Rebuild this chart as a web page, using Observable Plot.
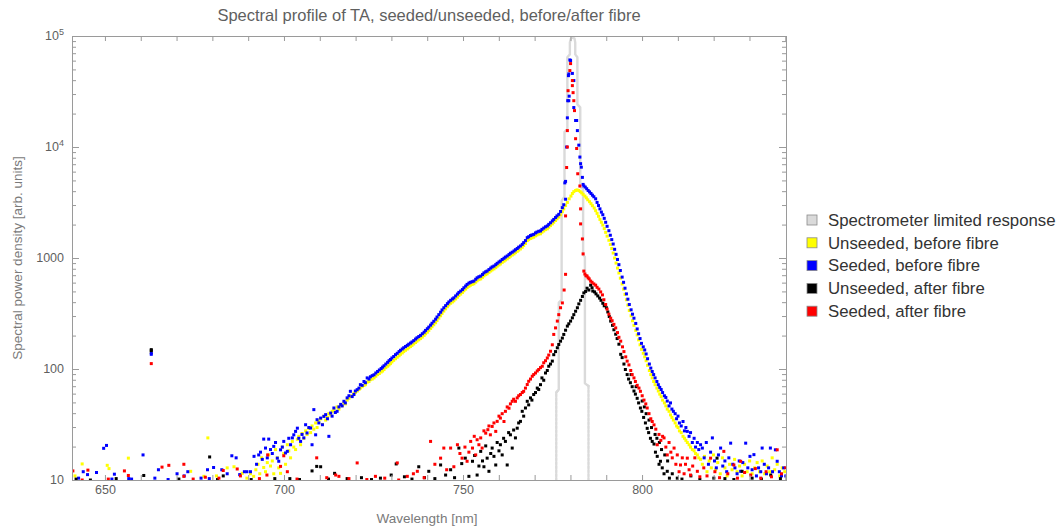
<!DOCTYPE html>
<html><head><meta charset="utf-8">
<script src="https://cdn.jsdelivr.net/npm/d3@7"></script>
<script src="https://cdn.jsdelivr.net/npm/@observablehq/plot@0.6"></script>
<style>
body{margin:0;background:#fff;}
#chart{width:1063px;height:529px;}
</style></head><body><div id="chart"></div>
<script>
// ---------- data (wavelength nm, spectral power density arb. units) ----------
const spectrometerResponse = [[775.9,10],[775.9,62],[776.6,66],[776.6,400],[777.4,425],[777.4,3300],[778.2,3600],[778.2,13800],[779.0,14600],[779.0,65000],[779.7,69000],[779.7,88000],[780.0,96000],[780.5,98000],[781.0,96000],[781.2,88000],[781.2,69000],[781.8,65000],[781.8,24500],[782.6,23000],[782.6,4450],[783.4,4200],[783.4,1080],[783.9,1030],[783.9,75],[784.9,71],[784.9,10]];

const unseededBefore = [[641.5,11],[643.5,14.1],[650.5,13.7],[651,12.8],[656.4,15.9],[662.8,143],[673.8,12.1],[677.5,10.9],[678.6,24.2],[681,11],[684,13],[685.9,13.3],[688.2,11.6],[689.5,10.5],[690.5,11.5],[691.4,10.9],[692.0,12.5],[692.6,14],[693.1,11.5],[693.6,16],[694.2,13.1],[694.7,12],[695.2,14.5],[695.6,17],[696.1,13.5],[696.6,15],[697.0,11.5],[697.5,19],[698.0,16],[698.4,13],[698.9,11.6],[699.4,20],[699.8,17.5],[700.3,14],[700.8,21],[701.2,18.5],[701.7,16],[702.2,22.5],[702.6,20],[703.1,19],[703.6,23.5],[704.0,25],[704.5,21],[704.9,26.5],[705.4,24],[705.9,28],[706.3,26],[706.8,29.5],[707.3,27],[707.7,31],[708.2,29],[708.7,33],[709.1,30],[709.6,34.5],[710.1,36],[710.6,32],[711.0,38],[711.5,35],[712.0,37],[712.4,40],[712.9,39],[713.3,42],[713.8,43],[714.2,41],[714.7,46],[715.2,44],[715.7,48],[716.1,47],[716.6,50],[717.0,49],[717.5,53],[718.0,55],[718.4,57],[718.9,58],[719.4,61],[719.8,62],[720.3,64],[720.8,66],[721.2,68],[721.7,70],[722.2,72],[722.6,73],[723.1,77],[723.6,78],[724.0,81],[724.5,82],[725.0,84],[725.5,87],[726.0,90],[726.5,92],[727.0,95],[727.4,97],[727.8,100],[728.3,104],[728.8,107],[729.2,110],[729.6,113],[730.0,117],[730.5,121],[731.0,125],[731.5,129],[732.0,133],[732.4,137],[732.9,141],[733.3,145],[733.8,149],[734.3,153],[734.7,157],[735.2,161],[735.6,165],[736.1,170],[736.6,175],[737.0,180],[737.5,185],[738.0,190],[738.5,196],[739.0,203],[739.4,210],[739.9,217],[740.3,225],[740.8,234],[741.2,243],[741.7,253],[742.2,264],[742.6,276],[743.1,290],[743.6,305],[744.0,320],[744.5,336],[745.0,352],[745.5,368],[745.9,382],[746.4,395],[746.9,406],[747.3,416],[747.8,432],[748.3,448],[748.7,464],[749.2,478],[749.7,494],[750.1,512],[750.6,530],[751.0,548],[751.5,562],[751.9,574],[752.4,584],[752.9,592],[753.4,612],[753.8,630],[754.3,645],[754.8,655],[755.3,676],[755.7,698],[756.2,716],[756.6,728],[757.1,750],[757.6,772],[758.0,790],[758.5,806],[759.0,828],[759.4,852],[759.9,875],[760.3,893],[760.8,922],[761.3,946],[761.7,970],[762.2,992],[762.7,1020],[763.1,1050],[763.6,1075],[764.1,1100],[764.5,1130],[765.0,1160],[765.4,1190],[765.9,1220],[766.4,1262],[766.8,1310],[767.3,1365],[767.8,1450],[768.2,1480],[768.7,1515],[769.1,1535],[769.6,1555],[770.1,1600],[770.5,1630],[771.0,1660],[771.5,1670],[771.9,1725],[772.4,1770],[772.9,1820],[773.4,1850],[773.8,1910],[774.3,1980],[774.8,2050],[775.2,2120],[775.7,2200],[776.1,2280],[776.6,2360],[777.1,2480],[777.6,2640],[778.0,2800],[778.5,3000],[779.0,3200],[779.5,3450],[780.0,3650],[780.4,3850],[780.8,4000],[781.3,4100],[781.7,4150],[782.2,4100],[782.6,4000],[783.0,3900],[783.4,3780],[783.9,3650],[784.3,3520],[784.7,3380],[785.2,3250],[785.6,3120],[786.0,2990],[786.5,2850],[786.9,2700],[787.3,2550],[787.7,2400],[788.1,2250],[788.5,2120],[788.9,2000],[789.3,1860],[789.7,1720],[790.1,1590],[790.6,1460],[791.0,1340],[791.4,1230],[791.8,1120],[792.2,1010],[792.6,910],[793.0,820],[793.4,740],[793.8,665],[794.3,590],[794.7,530],[795.1,475],[795.5,425],[795.9,380],[796.3,340],[796.8,305],[797.2,275],[797.6,250],[798.1,225],[798.5,205],[798.9,185],[799.3,167],[799.7,152],[800.2,140],[800.6,130],[801.0,120],[801.4,109],[801.9,98],[802.3,90],[802.7,84],[803.1,78],[803.5,73],[804.0,68],[804.4,64],[804.8,60],[805.2,57],[805.6,53],[806.1,50],[806.5,47],[806.9,44],[807.4,42],[807.8,39],[808.2,37],[808.6,35],[809.1,33],[809.5,31],[809.9,30],[810.3,28],[810.8,27],[811.3,25],[811.7,24],[812.1,23],[812.5,22],[813.0,21],[813.4,20],[813.9,19],[814.4,18.5],[814.8,17.5],[815.3,17],[815.7,16],[816.2,15.5],[816.7,14],[817.3,16.5],[818.0,12],[818.6,15],[819.2,13],[819.8,17],[820.4,12.5],[821.0,14.5],[821.7,11.5],[822.3,16],[823.0,13],[823.6,11],[824.3,14],[825.0,12.5],[825.7,15.5],[826.4,12],[827.1,13.5],[827.8,11],[828.5,14],[829.2,12],[829.9,15],[830.6,11.5],[831.3,13],[832.0,14.5],[832.7,12],[833.4,15],[834.1,11.5],[834.8,13.5],[835.5,12],[836.2,16],[836.9,12.5],[837.6,14],[838.3,11],[839.0,13],[839.7,12]];

const seededBefore = [[642.5,10.5],[643.8,12],[645.0,11.3],[647.5,11.8],[649.5,19.5],[650.3,20.7],[651.8,10.3],[652.5,11.4],[656.5,10.4],[657.3,10.3],[660.5,17],[662.8,137],[662.8,141],[663.8,10.5],[664.8,12.5],[667.5,10.2],[670,11.5],[672,11],[673,12],[676.7,10.5],[678.5,12.5],[679,10.4],[680.2,13.1],[682.5,12.5],[684,11.5],[685.3,16.7],[686.5,16],[687.5,11.3],[688.8,12],[689.5,12],[690.5,12],[691.5,16.5],[692.2,14],[692.8,17],[693.3,18],[693.8,15.5],[694.2,23.6],[694.7,19.6],[695.2,16],[695.6,23.6],[696.1,19],[696.6,17.5],[697,20.3],[697.5,22],[698,15.9],[698.4,14.9],[698.9,18.9],[699.4,20],[699.8,22.5],[700.3,17.7],[700.8,18.3],[701.2,24],[701.7,21],[702.2,24.2],[702.6,25.8],[703.1,27.7],[703.6,29.6],[704.0,24],[704.5,22.5],[704.9,26],[705.4,24.2],[705.9,31.8],[706.3,26.8],[706.8,30],[707.3,29.7],[707.7,21],[708.2,43.5],[708.7,25.8],[709.1,35.3],[709.6,33],[710.1,36.5],[710.6,31.8],[711.0,37.8],[711.5,39.2],[712.0,36],[712.4,25],[712.9,40.5],[713.3,38],[713.8,45],[714.2,41],[714.7,42],[715.2,46],[715.7,48.5],[716.1,47],[716.6,51.7],[717.0,50],[717.5,55.5],[718.0,58],[718.4,63.6],[718.9,57],[719.4,59.5],[719.8,64],[720.3,65.8],[720.8,68],[721.2,73],[721.7,72],[722.2,78],[722.6,76],[723.1,84],[723.6,82],[724.0,86],[724.5,88],[725.0,89.6],[725.5,93],[726.0,96],[726.5,99],[727.0,102],[727.4,105],[727.8,108],[728.3,112],[728.8,116],[729.2,120],[729.6,123],[730.0,127],[730.5,131],[731.0,136],[731.5,140],[732.0,145],[732.4,149],[732.9,153],[733.3,157],[733.8,161],[734.3,165],[734.7,169],[735.2,173],[735.6,177],[736.1,182],[736.6,188],[737.0,193],[737.5,198],[738.0,203],[738.5,210],[739.0,217],[739.4,225],[739.9,233],[740.3,241],[740.8,251],[741.2,261],[741.7,272],[742.2,284],[742.6,297],[743.1,312],[743.6,328],[744.0,344],[744.5,360],[745.0,376],[745.5,392],[745.9,406],[746.4,420],[746.9,432],[747.3,442],[747.8,460],[748.3,478],[748.7,495],[749.2,509],[749.7,525],[750.1,545],[750.6,565],[751.0,584],[751.5,600],[751.9,610],[752.4,618],[752.9,626],[753.4,650],[753.8,670],[754.3,685],[754.8,695],[755.3,718],[755.7,742],[756.2,760],[756.6,771],[757.1,795],[757.6,820],[758.0,840],[758.5,855],[759.0,880],[759.4,905],[759.9,930],[760.3,949],[760.8,980],[761.3,1005],[761.7,1030],[762.2,1054],[762.7,1085],[763.1,1115],[763.6,1140],[764.1,1169],[764.5,1200],[765.0,1230],[765.4,1265],[765.9,1297],[766.4,1340],[766.8,1390],[767.3,1450],[767.8,1540],[768.2,1570],[768.7,1610],[769.1,1630],[769.6,1650],[770.1,1700],[770.5,1730],[771.0,1760],[771.5,1771],[771.9,1830],[772.4,1880],[772.9,1930],[773.4,1965],[773.8,2030],[774.3,2100],[774.8,2180],[775.2,2250],[775.7,2340],[776.1,2420],[776.6,2500],[777.1,2650],[777.6,2870],[778.0,3050],[778.5,3420],[778.3,4800],[778.5,4950],[778.8,10100],[779.0,18500],[779.1,26400],[779.4,26400],[779.5,29000],[779.3,44400],[779.4,46000],[779.7,61500],[779.9,60700],[780.4,46500],[780.8,40100],[780.8,22900],[781.3,17500],[781.6,17500],[781.8,14200],[782.2,10500],[782.5,8200],[782.7,7150],[782.9,6650],[783.2,5380],[783.4,4650],[783.6,4500],[784.0,4400],[784.4,4250],[784.8,4100],[785.2,3980],[785.6,3850],[786.0,3720],[786.4,3600],[786.9,3450],[787.3,3200],[787.7,3000],[788.1,2800],[788.5,2620],[788.9,2480],[789.3,2300],[789.7,2120],[790.1,1950],[790.6,1780],[791.0,1620],[791.4,1480],[791.8,1350],[792.2,1210],[792.6,1090],[793.0,980],[793.4,880],[793.8,780],[794.3,680],[794.7,610],[795.1,540],[795.5,480],[795.9,430],[796.3,385],[796.8,345],[797.2,315],[797.6,290],[798.1,260],[798.5,232],[798.9,210],[799.3,190],[799.7,172],[800.2,160],[800.6,150],[801.0,138],[801.4,125],[801.9,112],[802.3,103],[802.7,96],[803.1,90],[803.5,84],[804.0,78],[804.4,73],[804.8,69],[805.2,66],[805.6,62],[806.1,58],[806.5,56],[806.9,52],[807.4,47],[807.8,50],[808.2,44],[808.6,42],[809.1,40],[809.5,36],[809.9,38],[810.3,33],[810.8,31],[811.3,34],[811.7,28],[812.1,30],[812.5,27.7],[813.0,25],[813.4,27],[813.9,22],[814.4,24],[814.8,20],[815.3,22],[815.7,19],[816.2,21],[816.7,19.6],[817.2,16],[817.8,22],[818.4,14],[819.0,18],[819.5,24.2],[820.1,15],[820.6,13],[821.2,17],[821.8,19.6],[822.4,13.5],[823.0,15],[823.5,12],[824.1,16],[824.6,21.7],[825.2,14],[825.8,13],[826.4,11.5],[827.0,15],[827.4,12.1],[828.0,14.5],[828.8,21.7],[829.4,13],[830.0,16.5],[830.6,12.5],[831.1,17.1],[831.8,11],[832.4,13],[833.0,12],[833.4,19.6],[834.0,14],[834.6,11.5],[835.2,13],[835.7,19.6],[836.3,12],[837.1,18.9],[837.6,14.9],[838.2,12],[838.8,11],[839.4,13],[840,11]];

const unseededAfter = [[641.8,10.3],[645.8,10.1],[653,10.4],[660.7,11.1],[662.8,148],[662.8,151],[670.5,10.3],[679.1,16.3],[681.3,10.2],[682.9,11],[690.7,10.2],[697.3,10.4],[701.5,10.4],[704.2,10.2],[707.7,12.2],[709,13.4],[710.1,13.3],[712.3,10.3],[714,11.6],[717.5,10.4],[721.5,10.6],[724.3,10.2],[726.8,10.5],[729.8,11.2],[731.2,14.1],[733.5,10.8],[735.6,10.3],[737.5,13.3],[739.1,10.6],[740.3,12.1],[742.0,10.4],[743.6,13.8],[745.0,11.2],[746.4,12.5],[747.5,10.6],[748.7,19.6],[749.5,14.2],[750.5,15.9],[751.5,10.9],[752.5,14.9],[753.1,16.8],[753.8,11.2],[754.3,13.5],[754.8,18.3],[755.3,15],[755.7,13.3],[756.2,20.5],[756.6,15.9],[757.1,12.1],[757.6,17.5],[758,19.6],[758.5,16.5],[759,13.8],[759.4,22],[759.9,18.5],[760.3,21],[760.8,17],[761.2,24],[761.7,22.5],[762.2,13.8],[762.6,27],[763.1,25.8],[763.6,19.6],[764.0,28.5],[764.5,24.2],[765,29.6],[765.4,33],[765.9,34.1],[766.4,42],[766.8,38],[767.3,45],[767.8,51.7],[768.2,48],[768.7,55.5],[769.1,53],[769.6,59.5],[770.1,62],[770.6,68],[771.0,66],[771.5,73],[771.9,84],[772.4,80],[772.9,93],[773.4,98],[773.8,107],[774.3,112],[774.8,119],[775.2,136],[775.7,145],[776.2,157],[776.6,168],[777.1,180],[777.6,192],[778,207],[778.5,226],[779,246],[779.4,258],[779.9,273],[780.4,292],[780.8,312],[781.3,335],[781.8,360],[782.2,390],[782.7,420],[783.2,455],[783.6,490],[784.1,505],[784.5,540],[785.0,520],[785.5,575],[785.9,545],[786.1,509],[786.6,500],[787.0,480],[787.5,460],[788.0,440],[788.4,420],[788.9,395],[789.3,375],[789.9,360],[790.3,330],[790.7,300],[791.1,273],[791.6,250],[792.0,228],[792.5,208],[792.9,190],[793.4,169],[793.9,137],[794.3,128],[794.8,112],[795.2,100],[795.7,90],[796.1,82],[796.6,76],[796.8,90],[797.1,70],[797.6,64],[798.0,60],[798.2,70],[798.5,55],[798.9,50],[799.4,45],[799.8,42],[799.9,52],[800.3,37],[800.5,46],[800.8,33],[801.0,40],[801.3,29.5],[801.7,27],[801.8,35],[802.2,24],[802.5,30],[802.7,22.5],[803.2,21.3],[803.5,26],[803.6,18],[804.0,24],[804.1,16.5],[804.6,14],[804.7,22],[805,14.9],[805.3,19],[805.5,13],[806.0,11.5],[806.2,17],[806.9,12.1],[807.0,15],[807.5,10.5],[808.3,11.5],[809.7,10.5],[811.0,10.3],[813.5,11],[816.0,10.2],[819.9,10.5],[820.8,15.9],[823.0,10.4],[825.5,10.2],[827.8,12.1],[830.6,10.5],[833.2,10.3],[835.8,11.2],[838.5,10.4]];

const seededAfter = [[640.9,12.2],[643.5,10.1],[645.1,12.4],[650.8,10.3],[655.3,12.2],[656.4,11.1],[662.8,113],[665.8,13.2],[667.7,13.7],[671.9,14],[671.9,10.9],[674.5,10.3],[677.9,10.7],[681.7,10.5],[682.9,12.3],[686.8,12.7],[687.7,11],[693.0,10.4],[695.1,11.2],[695.3,17],[698.9,13.4],[699.8,16.7],[700.8,12],[703.5,10.3],[709,16],[711.8,10.6],[714.3,11.2],[715.2,10.9],[718.0,10.4],[720.3,14.4],[723.0,10.2],[725.4,10.9],[728.0,10.5],[731.5,14.4],[731.9,10.1],[734.3,10.9],[736.0,11.5],[737.1,12.1],[739.0,10.6],[740.8,22.5],[742.0,14],[743.6,15.9],[744.5,19.6],[745.3,12.5],[746.4,19.6],[747.3,13.3],[748.3,21],[749.0,17.5],[749.6,15.9],[750.4,20],[751,14.9],[751.5,18],[752,22.5],[752.5,19.6],[753.0,25],[753.4,17],[753.8,23.3],[754.3,21],[754.8,24.2],[755.2,19.6],[755.7,28],[756.2,26.7],[756.8,28.7],[757.1,31],[757.5,25.8],[758,30.7],[758.5,33],[759,27.7],[759.4,34.1],[759.9,38],[760.3,36.5],[760.8,40],[761.3,34],[761.7,42],[762.2,46],[762.7,44.8],[763.1,49],[763.6,51.7],[764.0,54],[764.5,51.7],[765,55.5],[765.4,58],[765.9,59.5],[766.4,62],[766.8,63.6],[767.3,68],[767.8,73.2],[768.2,78.3],[768.7,82],[769.2,86.9],[769.6,90],[770.1,93],[770.6,97],[771,100],[771.5,104],[772,107],[772.4,115],[772.9,120],[773.4,127],[773.8,135],[774.3,146],[774.8,167],[775.2,207],[775.7,237],[776.2,273],[776.6,312],[777.1,360],[777.6,398],[778.1,520],[778.5,720],[778.5,2420],[778.8,6600],[779.0,10100],[779.0,14200],[779.2,32500],[779.7,49300],[779.9,57000],[780.4,40100],[780.4,36100],[780.6,31200],[780.8,26400],[781.0,21500],[781.3,12000],[781.6,9800],[781.9,5800],[782.5,4500],[782.7,2800],[782.7,2050],[783.2,1500],[783.4,1100],[783.6,770],[783.9,725],[784.2,700],[784.5,695],[784.8,670],[785.1,655],[785.5,626],[785.9,610],[786.4,590],[786.9,575],[787.3,550],[787.8,530],[788.3,500],[788.8,470],[789.2,425],[789.7,385],[790.1,350],[790.6,315],[791.1,290],[791.5,275],[792.0,255],[792.5,237],[793.0,215],[793.4,195],[793.9,180],[794.4,160],[794.8,145],[795.3,130],[795.7,119],[796.2,110],[796.7,98],[797.1,90],[797.6,84],[798.0,78],[798.5,72],[799.0,68],[799.4,63.6],[799.9,58],[800.4,53],[800.9,49],[801.3,45],[801.8,40],[802.3,36],[802.7,34],[803.2,31.7],[803.7,29],[804.1,21],[804.6,26],[805.1,23],[805.6,25],[806,24.2],[806.5,20],[806.9,17],[807.4,22],[807.9,18],[808.3,16],[808.8,19.6],[809.3,14],[809.7,17],[810.2,12],[810.6,13.8],[811.1,16],[811.6,11.5],[812.0,14],[812.5,15.9],[813.0,12.5],[813.4,11.2],[814.0,13.5],[814.6,16],[815.3,12.1],[816.0,10.8],[817.1,13],[818.0,11],[819,15.9],[820.2,12],[821.5,10.6],[822.7,18.3],[823.8,11.5],[825.5,13.8],[826.5,10.5],[827.4,14.9],[828.5,11.8],[830.2,11.2],[831.5,12.8],[833.0,10.5],[834.5,12],[836.0,10.8],[837.6,18.9],[838.8,11.5],[840,13]];

const legendLabels = ["Spectrometer limited response","Unseeded, before fibre","Seeded, before fibre","Unseeded, after fibre","Seeded, after fibre"];
const legendColors = ["#dadada","#ffff00","#0000ff","#000000","#ff0000"];

const xTickValues = [650,700,750,800];
const xMinorTicks = [650,660,670,680,690,700,710,720,730,740,750,760,770,780,790,800,810,820,830,840];
const yTickValues = [10,100,1000,10000,100000];
const yTickBase = ["10","100","1000","10","10"];
const yTickSup = ["","","","4","5"];
const yMinorTicks = [20,30,40,50,60,70,80,90,200,300,400,500,600,700,800,900,2000,3000,4000,5000,6000,7000,8000,9000,20000,30000,40000,50000,60000,70000,80000,90000];

const titleText = "Spectral profile of TA, seeded/unseeded, before/after fibre";
const xLabel = "Wavelength [nm]";
const yLabel = "Spectral power density [arb. units]";

// ---------- chart ----------
const W = 1063, H = 529, mL = 72, mR = 277, mT = 36, mB = 49;
const iW = W - mL - mR, iH = H - mT - mB;
const FONT = "'Liberation Sans', Arial, Helvetica, sans-serif";
const frameColor = "#9a9a9a";
const textColor = "#5f5f5f";

const pointSeries = [
  {data: unseededBefore, color: legendColors[1]},
  {data: seededBefore, color: legendColors[2]},
  {data: unseededAfter, color: legendColors[3]},
  {data: seededAfter, color: legendColors[4]}
];
const side = d => (d[0] < 780.5 ? "left" : "right");

const chart = Plot.plot({
  width: W, height: H,
  marginLeft: mL, marginRight: mR, marginTop: mT, marginBottom: mB,
  style: {background: "#fff", fontFamily: FONT, overflow: "visible"},
  x: {domain: [640.8, 840.2], axis: null},
  y: {type: "log", domain: [10, 100000], axis: null},
  marks: [
    // upper (solid) part of the spectrometer-limited response
    Plot.line(spectrometerResponse, {filter: d => d[1] >= 62, x: d => d[0], y: d => d[1], stroke: legendColors[0], strokeWidth: 2.4, clip: true}),
    // lowest part rendered dotted, as in the original
    Plot.line(spectrometerResponse, {filter: d => d[1] <= 71, z: side, x: d => d[0], y: d => d[1], stroke: legendColors[0], strokeWidth: 2.4, strokeDasharray: "2.5,1.5", clip: true}),
    ...pointSeries.map(s => Plot.dot(s.data, {x: d => d[0], y: d => d[1], symbol: "square", r: 1.7, fill: s.color, clip: true})),
    Plot.frame({stroke: frameColor}),
    Plot.tickX(xMinorTicks, {x: d => d, insetTop: iH - 5, stroke: frameColor}),
    Plot.tickX(xMinorTicks, {x: d => d, insetBottom: iH - 5, stroke: frameColor}),
    Plot.tickY(yTickValues, {y: d => d, insetRight: iW - 7, stroke: frameColor}),
    Plot.tickY(yTickValues, {y: d => d, insetLeft: iW - 7, stroke: frameColor}),
    Plot.tickY(yMinorTicks, {y: d => d, insetRight: iW - 4, stroke: frameColor}),
    Plot.tickY(yMinorTicks, {y: d => d, insetLeft: iW - 4, stroke: frameColor}),
    Plot.text(xTickValues, {x: d => d, frameAnchor: "bottom", dy: 13, text: d => String(d), fill: textColor, fontSize: 12.5})
  ]
});

const svg = d3.select(chart);
const yScale = chart.scale("y");

// y tick labels with superscripts
yTickValues.forEach((v, i) => {
  const t = svg.append("text")
    .attr("x", 64).attr("y", yScale.apply(v))
    .attr("text-anchor", "end").attr("dy", "0.35em")
    .attr("font-family", FONT).attr("font-size", 12.5).attr("fill", textColor);
  t.append("tspan").text(yTickBase[i]);
  if (yTickSup[i]) t.append("tspan").attr("dy", "-0.55em").attr("font-size", 9).text(yTickSup[i]);
});

// title and axis labels
svg.append("text").attr("x", mL + iW / 2).attr("y", 15).attr("dy", "0.35em")
  .attr("text-anchor", "middle").attr("font-family", FONT).attr("font-size", 16.5)
  .attr("fill", textColor).text(titleText);
svg.append("text").attr("x", mL + iW / 2 - 2).attr("y", 518).attr("dy", "0.35em")
  .attr("text-anchor", "middle").attr("font-family", FONT).attr("font-size", 13.5)
  .attr("fill", "#7a7a7a").text(xLabel);
svg.append("text").attr("transform", `translate(17,${mT + iH / 2}) rotate(-90)`).attr("dy", "0.35em")
  .attr("text-anchor", "middle").attr("font-family", FONT).attr("font-size", 13.5)
  .attr("fill", "#7a7a7a").text(yLabel);

// legend
const lg = svg.append("g");
legendLabels.forEach((lab, i) => {
  const cy = 220 + i * 22.8;
  lg.append("rect").attr("x", 807).attr("y", cy - 5).attr("width", 10).attr("height", 10)
    .attr("fill", legendColors[i]).attr("stroke", "#8a8a8a").attr("stroke-width", 0.8);
  lg.append("text").attr("x", 828).attr("y", cy).attr("dy", "0.35em")
    .attr("text-anchor", "start")
    .attr("font-family", FONT).attr("font-size", 16.8).attr("fill", "#333").text(lab);
});

document.getElementById("chart").appendChild(chart);
</script>
</body></html>
